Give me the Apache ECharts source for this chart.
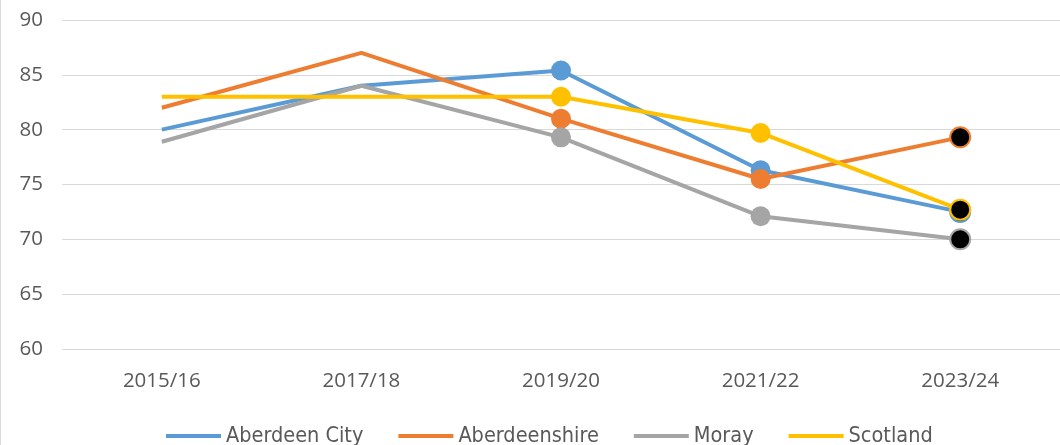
<!DOCTYPE html>
<html>
<head>
<meta charset="utf-8">
<script src="https://cdn.jsdelivr.net/npm/echarts@6/dist/echarts.min.js"></script>
<style>
  html, body { margin: 0; padding: 0; background: #fff; }
  #chart { width: 1059px; height: 445px; border-left: 1px solid #d9d9d9; }
</style>
</head>
<body>
<div id="chart"></div>
<script>
var years = ['2015/16', '2017/18', '2019/20', '2021/22', '2023/24'];
var aberdeenCity = [80, 84, 85.4, 76.3, 72.5];
var aberdeenshire = [82, 87, 81, 75.5, 79.3];
var moray = [78.9, 84, 79.3, 72.1, 70];
var scotland = [83, 83, 83, 79.7, 72.7];
var yTicks = [60, 65, 70, 75, 80, 85, 90];

// markers only on the last three years, last one black
function points(arr, color) {
  return arr.map(function (v, i) {
    if (i < 2) return { value: v, symbol: 'none' };
    if (i === arr.length - 1) {
      return { value: v, itemStyle: { color: '#000', borderColor: color, borderWidth: 2 } };
    }
    return { value: v };
  });
}

function line(name, arr, color) {
  return {
    name: name,
    type: 'line',
    data: points(arr, color),
    symbol: 'circle',
    symbolSize: 20,
    showAllSymbol: true,
    lineStyle: { width: 4, color: color },
    itemStyle: { color: color },
    emphasis: { disabled: true }
  };
}

var chart = echarts.init(document.getElementById('chart'));
chart.setOption({
  animation: false,
  color: ['#5b9bd5', '#ed7d31', '#a5a5a5', '#ffc000'],
  grid: { left: 61, width: 1000, top: 20, height: 329 },
  legend: {
    top: 420,
    left: 160,
    itemWidth: 55,
    itemHeight: 4,
    itemGap: 35,
    icon: 'rect',
    textStyle: { fontFamily: 'DejaVu Sans Condensed, Roboto', fontSize: 21.5, color: '#595959' },
    data: ['Aberdeen City', 'Aberdeenshire', 'Moray', 'Scotland']
  },
  xAxis: {
    type: 'category',
    data: years,
    axisLine: { show: false },
    axisTick: { show: false },
    axisLabel: { margin: 22, fontFamily: 'Open Sans', fontSize: 20.5, color: '#595959' }
  },
  yAxis: {
    type: 'value',
    min: yTicks[0],
    max: yTicks[yTicks.length - 1],
    interval: 5,
    axisLine: { show: false },
    axisTick: { show: false },
    splitLine: { lineStyle: { color: '#d9d9d9', width: 1 } },
    axisLabel: { margin: 19, fontFamily: 'Open Sans', fontSize: 20.5, color: '#595959' }
  },
  series: [
    line('Aberdeen City', aberdeenCity, '#5b9bd5'),
    line('Aberdeenshire', aberdeenshire, '#ed7d31'),
    line('Moray', moray, '#a5a5a5'),
    line('Scotland', scotland, '#ffc000')
  ]
});
</script>
</body>
</html>
